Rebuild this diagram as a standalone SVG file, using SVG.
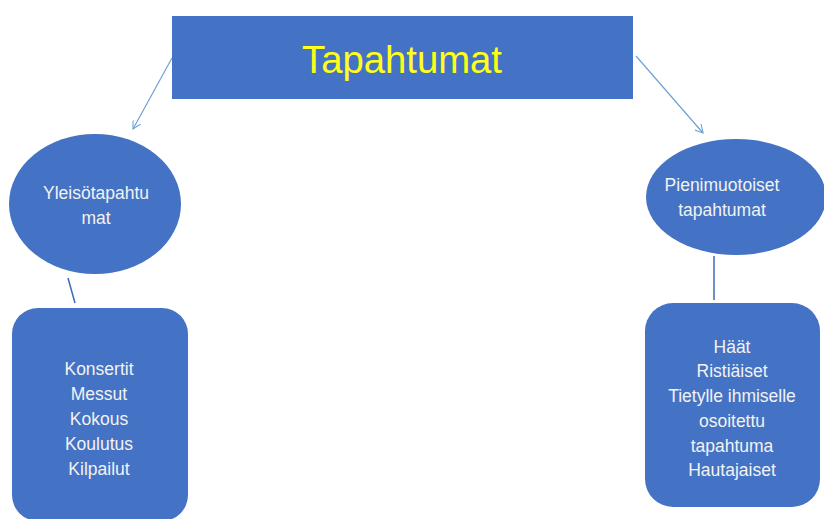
<svg xmlns="http://www.w3.org/2000/svg" width="824" height="519" viewBox="0 0 824 519">
<style>
.node{fill:#4472C4;}
.t{font-family:"Liberation Sans","Noto Sans",sans-serif;font-size:17.5px;fill:#F2F2F2;text-anchor:middle;}
.title{font-family:"Liberation Sans","Noto Sans",sans-serif;font-size:38px;fill:#FFFF1A;text-anchor:middle;}
.arr{stroke:#6FA1D6;stroke-width:1.2;fill:none;}
.ln{stroke:#3C6AB5;stroke-width:1.5;fill:none;}
</style>
<defs>
<marker id="ah" viewBox="0 0 10 10" refX="9" refY="5" markerWidth="9" markerHeight="9" orient="auto" markerUnits="userSpaceOnUse">
<path d="M0,0 L9,5 L0,10" fill="none" stroke="#6FA1D6" stroke-width="1.2"/>
</marker>
</defs>
<rect width="824" height="519" fill="#FFFFFF"/>
<g id="connectors">
<line class="arr" x1="172" y1="58" x2="133" y2="129" marker-end="url(#ah)"/>
<line class="arr" x1="636" y1="56" x2="703" y2="133" marker-end="url(#ah)"/>
<line class="ln" x1="68" y1="278" x2="75" y2="303"/>
<line class="ln" x1="714" y1="256" x2="714" y2="300"/>
</g>
<g id="tapahtumat">
<rect class="node" x="172" y="16" width="461" height="83"/>
<text class="title" x="402" y="73" textLength="200" lengthAdjust="spacingAndGlyphs">Tapahtumat</text>
</g>
<g id="yleisotapahtumat">
<ellipse class="node" cx="95" cy="204" rx="86" ry="70"/>
<text class="t" x="96" y="199">Yleisötapahtu</text>
<text class="t" x="96" y="224">mat</text>
</g>
<g id="pienimuotoiset">
<ellipse class="node" cx="736" cy="197" rx="90" ry="58"/>
<text class="t" x="722" y="191">Pienimuotoiset</text>
<text class="t" x="722" y="216">tapahtumat</text>
</g>
<g id="yleiso-list">
<rect class="node" x="12" y="308" width="176" height="213" rx="26"/>
<text class="t" x="99" y="375">Konsertit</text>
<text class="t" x="99" y="400">Messut</text>
<text class="t" x="99" y="425">Kokous</text>
<text class="t" x="99" y="450">Koulutus</text>
<text class="t" x="99" y="475">Kilpailut</text>
</g>
<g id="pieni-list">
<rect class="node" x="645" y="303" width="175" height="204" rx="28"/>
<text class="t" x="732" y="353">Häät</text>
<text class="t" x="732" y="377">Ristiäiset</text>
<text class="t" x="732" y="402">Tietylle ihmiselle</text>
<text class="t" x="732" y="427">osoitettu</text>
<text class="t" x="732" y="452">tapahtuma</text>
<text class="t" x="732" y="476">Hautajaiset</text>
</g>
</svg>
